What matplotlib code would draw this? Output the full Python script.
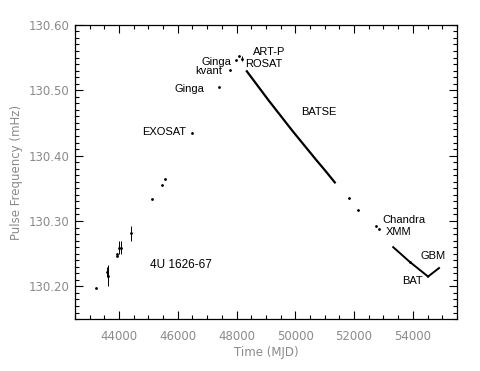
import numpy as np
import matplotlib
matplotlib.use('Agg')
import matplotlib.pyplot as plt
from matplotlib.ticker import MultipleLocator, FormatStrFormatter

# puntos sueltos (MJD, mHz, error)
mjd_pts = [43210, 43600, 43640, 43920, 43940, 43990, 44060, 44400,
           45140, 45460, 45560, 46500, 47400, 47770, 47980, 48100, 48200,
           51810, 52120, 52760, 52840, 53900]
freq_pts = [130.198, 130.222, 130.216, 130.247, 130.249, 130.259, 130.259, 130.281,
            130.333, 130.355, 130.364, 130.435, 130.505, 130.531, 130.547, 130.552, 130.548,
            130.335, 130.317, 130.292, 130.288, 130.237]
err_pts = [0.0, 0.008, 0.016, 0.0, 0.0, 0.010, 0.010, 0.012,
           0.0, 0.0, 0.0, 0.0, 0.0, 0.0, 0.0, 0.0, 0.004,
           0.0, 0.0, 0.0, 0.0, 0.0]

# BATSE
mjd_batse = [48350, 48700, 49100, 49500, 49900, 50300, 50700, 51000, 51344]
freq_batse = [130.529, 130.508, 130.484, 130.461, 130.438, 130.416, 130.394, 130.378, 130.359]

# BAT y GBM
mjd_bat = [53330, 53880, 54517]
freq_bat = [130.260, 130.238, 130.215]
mjd_gbm = [54517, 54890]
freq_gbm = [130.215, 130.228]

etiquetas = ['Ginga', 'kvant', 'Ginga', 'EXOSAT', 'ART-P', 'ROSAT', 'BATSE',
             'Chandra', 'XMM', 'GBM', 'BAT', '4U 1626-67']
pos_etiquetas = [(47820, 130.543), (47500, 130.529), (46900, 130.502), (46300, 130.436),
                 (48560, 130.559), (48290, 130.540), (50200, 130.466),
                 (52950, 130.301), (53080, 130.283), (54270, 130.246), (53650, 130.208),
                 (45050, 130.233)]
alin = ['right', 'right', 'right', 'right', 'left', 'left', 'left',
        'left', 'left', 'left', 'left', 'left']

gris = '#8a8a8a'
fig = plt.figure(figsize=(4.8, 3.71), dpi=100)
ax = fig.add_axes([0.156, 0.140, 0.796, 0.793])

ax.errorbar(mjd_pts, freq_pts, yerr=err_pts, fmt='o', color='black',
            markersize=1.0, elinewidth=0.7, capsize=0)
ax.plot(mjd_batse, freq_batse, '-', color='black', lw=1.6)
ax.plot(mjd_bat, freq_bat, '-', color='black', lw=1.4)
ax.plot(mjd_gbm, freq_gbm, '-', color='black', lw=1.4)

for txt, (x, y), ha in zip(etiquetas, pos_etiquetas, alin):
    fs = 8.5 if txt == '4U 1626-67' else 8
    ax.text(x, y, txt, ha=ha, va='center', fontsize=fs, family='Liberation Sans')

ax.set_xlim(42500, 55500)
ax.set_ylim(130.15, 130.60)
ax.xaxis.set_major_locator(MultipleLocator(2000))
ax.xaxis.set_minor_locator(MultipleLocator(500))
ax.yaxis.set_major_locator(MultipleLocator(0.1))
ax.yaxis.set_minor_locator(MultipleLocator(0.01))
ax.yaxis.set_major_formatter(FormatStrFormatter('%.2f'))

ax.tick_params(which='both', direction='in', top=True, right=True, width=0.8,
               labelsize=8.5, labelcolor=gris)
ax.tick_params(which='major', length=6)
ax.tick_params(which='minor', length=3)
ax.tick_params(axis='x', pad=8)
ax.tick_params(axis='y', pad=4)
for s in ax.spines.values():
    s.set_linewidth(0.9)

ax.set_xlabel('Time (MJD)', color=gris, fontsize=8.5, labelpad=2)
ax.set_ylabel('Pulse Frequency (mHz)', color=gris, fontsize=8.5, labelpad=4)

fig.savefig('out.png', dpi=100)
